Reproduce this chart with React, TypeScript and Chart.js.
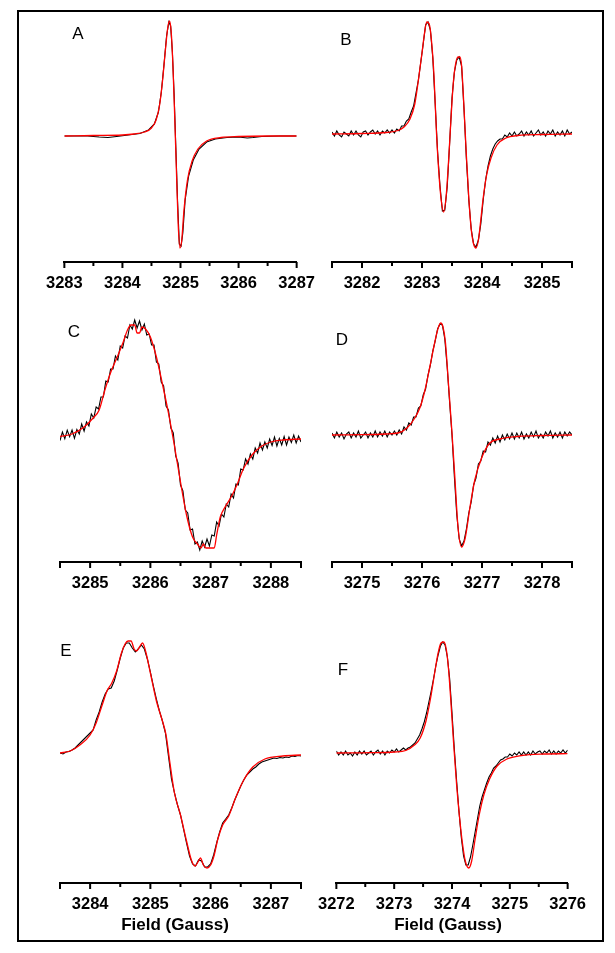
import React, { useEffect, useRef } from 'react';
import { Chart, registerables } from 'chart.js';

Chart.register(...registerables);

// ---------------- DATA (field in Gauss, signal in arbitrary units) ----------------

// Panel A
const A_range = [3283, 3287];
const A_tickLabels = [3283, 3284, 3285, 3286, 3287];
const A_expField = [3283.0, 3283.4, 3283.6, 3283.75, 3283.9, 3284.1, 3284.3, 3284.45, 3284.55, 3284.62, 3284.67, 3284.72, 3284.76, 3284.8, 3284.83, 3284.86, 3284.89, 3284.92, 3284.95, 3284.98, 3285.01, 3285.04, 3285.08, 3285.14, 3285.22, 3285.32, 3285.45, 3285.6, 3285.8, 3286.0, 3286.15, 3286.25, 3286.4, 3286.7, 3287.0];
const A_expSignal = [0, 0, -1, -1.5, -0.5, 1, 2.5, 6, 12, 24, 44, 74, 100, 114, 110, 84, 42, -12, -66, -108, -110, -97, -64, -40, -24, -13, -6, -3, -1.5, -1, -2, -1.5, -0.5, 0, 0];
const A_fitField = [3283.0, 3283.5, 3284.0, 3284.2, 3284.38, 3284.5, 3284.58, 3284.64, 3284.69, 3284.74, 3284.78, 3284.81, 3284.84, 3284.87, 3284.9, 3284.93, 3284.96, 3284.99, 3285.02, 3285.06, 3285.12, 3285.2, 3285.3, 3285.45, 3285.7, 3286.0, 3286.5, 3287.0];
const A_fitSignal = [0, 0.5, 1, 2, 4, 8, 16, 31, 55, 86, 108, 115, 104, 70, 20, -35, -88, -112, -105, -74, -44, -25, -13, -5, -1.5, -0.5, 0, 0];

// Panel B (experimental trace sampled every 0.04 G from the sweep start)
const B_range = [3281.5, 3285.5];
const B_tickLabels = [3282, 3283, 3284, 3285];
const B_expStart = 3281.5;
const B_expStep = 0.04;
const B_expSignal = [
  2, -2, 3, -1, -3, 2, 0, -2, 3, -1, 3, -1, -3, 2, 3, -1, 2, 4, 0, 3, -1, 3, 1, 4, 1, 4,
  1, 5, 3, 8, 8, 13, 15, 22, 28, 41,
  54, 72, 90, 109, 112, 104, 76, 30, -18, -52,
  -77, -76, -53, -10, 36, 62, 74, 77, 68, 25,
  -25, -66, -95, -110, -113, -106, -90, -66, -46, -32,
  -22, -15, -10, -7, -5,
  -5, -1, -3, 1, -2, 2, -2, 0, 3, -2, 2, -1, 3, -2, 1, 4, -1, 2, -2, 3, 0, 4, -2, 2, -1, 3, -2, 4, 0, 2,
];
const B_fitField = [3281.5, 3282.0, 3282.4, 3282.6, 3282.7, 3282.8, 3282.88, 3282.94, 3283.0, 3283.04, 3283.08, 3283.12, 3283.16, 3283.2, 3283.24, 3283.28, 3283.32, 3283.36, 3283.4, 3283.44, 3283.48, 3283.52, 3283.56, 3283.6, 3283.63, 3283.66, 3283.7, 3283.74, 3283.78, 3283.82, 3283.86, 3283.9, 3283.94, 3283.98, 3284.02, 3284.08, 3284.15, 3284.25, 3284.4, 3284.6, 3285.0, 3285.5];
const B_fitSignal = [0, 0.5, 1.5, 3.5, 7, 15, 30, 54, 81, 100, 112, 110, 92, 58, 3, -38, -66, -78, -64, -30, 12, 50, 70, 77, 77, 68, 26, -22, -64, -95, -110, -114, -106, -86, -64, -40, -24, -11, -4, -1.5, -0.5, 0];

// Panel C
const C_range = [3284.5, 3288.5];
const C_tickLabels = [3285, 3286, 3287, 3288];
const C_expStart = 3284.5;
const C_expStep = 0.04;
const C_expSignal = [
  -3.5, 5, -1.7, 6.8, 0.3, 7, -1.3, 7.5, 3, 13,
  6, 15, 11, 23, 19, 30, 28, 40, 40, 56,
  55, 68, 68, 81, 77, 91, 89, 101, 99, 112,
  108, 117, 109, 116, 107, 113, 102, 103, 92, 92,
  75, 73, 55, 51, 31, 27, 9, 4, -19, -26,
  -48, -54, -73, -76, -93, -92, -107, -105, -113, -104,
  -110, -102, -109, -98, -99, -85, -89, -77, -80, -67,
  -70, -57, -61, -47, -48, -32, -33, -22, -27, -17,
  -22, -11, -16, -6, -13, -5, -11, -2, -8.5, 0,
  -9, -1.5, -8, 0.5, -8, 0, -5.5, 2, -6, 1,
  -5,
];
const C_fitField = [3284.5, 3284.7, 3284.9, 3285.05, 3285.15, 3285.25, 3285.35, 3285.45, 3285.55, 3285.62, 3285.68, 3285.74, 3285.78, 3285.82, 3285.86, 3285.92, 3286.0, 3286.1, 3286.2, 3286.3, 3286.4, 3286.5, 3286.6, 3286.7, 3286.78, 3286.84, 3286.88, 3286.92, 3287.0, 3287.06, 3287.1, 3287.16, 3287.25, 3287.35, 3287.45, 3287.55, 3287.7, 3287.85, 3288.0, 3288.2, 3288.5];
const C_fitSignal = [0.5, 3, 10, 19, 27, 48, 66, 80, 95, 107, 112, 112, 104, 104, 110, 108, 100, 80, 53, 24, -9, -45, -78, -100, -107, -111, -107, -111, -111, -111, -98, -80, -69, -59, -46, -31, -17, -9, -5, -3, -2];

// Panel D
const D_range = [3274.5, 3278.5];
const D_tickLabels = [3275, 3276, 3277, 3278];
const D_expStart = 3274.5;
const D_expStep = 0.04;
const D_expSignal = [
  2, -3, 3, -2, 2, -4, 1, 3, -3, 2, -2, 4, -3, 0, 3, -3, 2, -2, 4, -2, 3, -1, 4, -2, 3, 0, 4,
  0, 5, 1, 8, 5, 12, 10, 18, 18, 27,
  29, 40, 46, 60, 70, 84, 94, 106, 111, 110,
  96, 68, 33, 0, -42, -80, -104, -111, -106, -94,
  -78, -67, -50, -43, -29, -26, -16, -17, -7, -10, -3, -8, -1, -7,
  0, -5, 1, -4, 2, -4, 2, -3, 3, -4, 1, -3, 3, -2, 4, -3, 1, -3, 3, -1, 4, -3, 2, -2, 3, -3, 3, -1, 3, 0,
];
const D_fitField = [3274.5, 3275.0, 3275.4, 3275.6, 3275.75, 3275.88, 3275.97, 3276.05, 3276.13, 3276.2, 3276.26, 3276.31, 3276.35, 3276.39, 3276.44, 3276.5, 3276.55, 3276.6, 3276.66, 3276.72, 3276.8, 3276.88, 3277.0, 3277.13, 3277.3, 3277.6, 3278.0, 3278.5];
const D_fitSignal = [0, 0.3, 1, 2, 7, 17, 28, 45, 68, 89, 105, 112, 108, 93, 52, 2, -45, -92, -112, -103, -72, -45, -22, -8, -4, -1.5, -0.5, 0];

// Panel E
const E_range = [3283.5, 3287.5];
const E_tickLabels = [3284, 3285, 3286, 3287];
const E_expStart = 3283.5;
const E_expStep = 0.05;
const E_expSignal = [
  0, -1, 1, 1.5, 3, 5, 8, 11, 14, 17, 20, 23, 33, 41, 51, 59, 64, 65, 72, 83,
  95, 105, 110, 110, 105, 101, 104, 108, 104, 94, 81, 67, 54, 42, 32, 20, -3, -26, -40, -52,
  -62, -76, -90, -103, -111, -113, -107, -108, -114, -114, -111, -102, -90, -79, -70, -66, -62, -55, -47, -40,
  -33, -27, -22, -19, -16, -14, -11, -9, -8, -7, -6, -5, -5.5, -4.5, -5, -4, -4.5, -3, -3.5, -2.5, -3,
];
const E_fitField = [3283.5, 3283.67, 3283.83, 3284.0, 3284.1, 3284.2, 3284.28, 3284.36, 3284.44, 3284.52, 3284.58, 3284.63, 3284.68, 3284.73, 3284.77, 3284.82, 3284.87, 3284.92, 3285.0, 3285.1, 3285.2, 3285.26, 3285.32, 3285.4, 3285.5, 3285.6, 3285.68, 3285.74, 3285.79, 3285.83, 3285.88, 3285.94, 3286.0, 3286.06, 3286.12, 3286.2, 3286.3, 3286.42, 3286.55, 3286.7, 3286.9, 3287.2, 3287.5];
const E_fitSignal = [0, 2, 8, 18, 30, 48, 62, 70, 82, 100, 109, 112, 112, 104, 102, 106, 110, 102, 80, 52, 32, 18, -8, -40, -62, -88, -107, -113, -109, -105, -112, -115, -112, -102, -86, -72, -63, -44, -27, -14, -6, -3, -2];

// Panel F
const F_range = [3272, 3276];
const F_tickLabels = [3272, 3273, 3274, 3275, 3276];
const F_expStart = 3272;
const F_expStep = 0.04;
const F_expSignal = [
  2, -2, 1, -2, 2, -2, 0, -3, 1, -2, 2, -1, 2, -2, 0, 2, -2, 1, 3, -1, 2, -2, 2, 0, 3,
  1, 4, 1, 3, 5, 3,
  5, 6, 8, 10, 14, 18, 24, 31, 40,
  51, 62, 74, 87, 98, 107, 111, 108, 96, 74,
  40, 4, -28, -58, -84, -103, -112, -112, -104, -92,
  -79, -66, -53, -44, -37, -30, -24, -20, -15, -13,
  -10, -7, -6, -4, -4, -1, -3, 0, -2, 1, -2, 1, -2, 1, -2, 2, -1, 1, 2, -1, 2, 0, 3, -1, 2, -1, 2, 0, 3, 0, 3,
];
const F_fitField = [3272, 3272.6, 3273.0, 3273.2, 3273.35, 3273.45, 3273.55, 3273.63, 3273.7, 3273.76, 3273.81, 3273.86, 3273.9, 3273.94, 3273.98, 3274.03, 3274.08, 3274.13, 3274.18, 3274.23, 3274.29, 3274.34, 3274.4, 3274.47, 3274.55, 3274.65, 3274.78, 3274.95, 3275.2, 3275.6, 3276];
const F_fitSignal = [0, 0.3, 1, 2.5, 8, 15, 32, 55, 80, 100, 110, 111, 104, 84, 52, 8, -32, -64, -90, -108, -115, -108, -86, -62, -42, -26, -13, -6, -2.5, -1, -0.7];

const AXIS_TITLE = 'Field (Gauss)';

// ---------------- helpers ----------------
// field sweep positions of the sampled experimental traces
const sweep = (start: number, step: number, n: number) => Array.from({ length: n }, (_, i) => +(start + i * step).toFixed(4));
const pts = (xs: number[], ys: number[]) => xs.map((x, i) => ({ x, y: ys[i] }));

const FONT = "'Liberation Sans', Arial, Helvetica, sans-serif";

// layout (pixels)
const PANELS = [
  { letter: 'A', range: A_range, labels: A_tickLabels, expX: A_expField, expY: A_expSignal, fitX: A_fitField, fitY: A_fitSignal,
    left: 60, right: 301, top: 15, axis: 262, base: 136, lx: 78, ly: 33, title: false },
  { letter: 'B', range: B_range, labels: B_tickLabels, expX: sweep(B_expStart, B_expStep, B_expSignal.length), expY: B_expSignal, fitX: B_fitField, fitY: B_fitSignal,
    left: 332, right: 572, top: 15, axis: 262, base: 134, lx: 346, ly: 39, title: false },
  { letter: 'C', range: C_range, labels: C_tickLabels, expX: sweep(C_expStart, C_expStep, C_expSignal.length), expY: C_expSignal, fitX: C_fitField, fitY: C_fitSignal,
    left: 60, right: 301, top: 315, axis: 562, base: 437, lx: 74, ly: 331, title: false },
  { letter: 'D', range: D_range, labels: D_tickLabels, expX: sweep(D_expStart, D_expStep, D_expSignal.length), expY: D_expSignal, fitX: D_fitField, fitY: D_fitSignal,
    left: 332, right: 572, top: 315, axis: 562, base: 435, lx: 342, ly: 339, title: false },
  { letter: 'E', range: E_range, labels: E_tickLabels, expX: sweep(E_expStart, E_expStep, E_expSignal.length), expY: E_expSignal, fitX: E_fitField, fitY: E_fitSignal,
    left: 60, right: 301, top: 635, axis: 883, base: 753, lx: 66, ly: 650, title: true, tx: 175 },
  { letter: 'F', range: F_range, labels: F_tickLabels, expX: sweep(F_expStart, F_expStep, F_expSignal.length), expY: F_expSignal, fitX: F_fitField, fitY: F_fitSignal,
    left: 332, right: 572, top: 635, axis: 883, base: 753, lx: 343, ly: 669, title: true, tx: 448 },
];

const PAD_L = 25, PAD_R = 25, PAD_T = 5, PAD_B = 5;
const TICK_PAD = 11;
const LABEL_LH = 20;
const SCALE_H = LABEL_LH + 2 * TICK_PAD;

const tickPlugin = {
  id: 'eprTicks',
  afterDraw(chart: any) {
    const s = chart.scales.x;
    const ctx = chart.ctx;
    ctx.save();
    ctx.strokeStyle = '#000';
    ctx.lineWidth = 2;
    s.ticks.forEach((t: any) => {
      const v = t.value;
      const px = s.getPixelForValue(v);
      const major = Math.abs(v - Math.round(v)) < 1e-6 || Math.abs(v - s.min) < 1e-6 || Math.abs(v - s.max) < 1e-6;
      const len = major ? 6 : 4;
      ctx.beginPath();
      ctx.moveTo(px, s.top);
      ctx.lineTo(px, s.top + len);
      ctx.stroke();
    });
    ctx.restore();
  },
};

function Panel({ p }: { p: any }) {
  const ref = useRef<HTMLCanvasElement>(null);
  const width = p.right - p.left + PAD_L + PAD_R;
  const height = PAD_T + (p.axis - p.top) + SCALE_H + PAD_B;
  useEffect(() => {
    if (!ref.current) return;
    const chart = new Chart(ref.current, {
      type: 'line',
      data: {
        datasets: [
          {
            data: pts(p.fitX, p.fitY),
            borderColor: '#ff0000',
            borderWidth: 1.3,
            pointRadius: 0,
            fill: false,
            cubicInterpolationMode: 'monotone',
          },
          {
            data: pts(p.expX, p.expY),
            borderColor: '#000000',
            borderWidth: 1.1,
            pointRadius: 0,
            fill: false,
            tension: 0,
          },
        ],
      },
      options: {
        animation: false,
        responsive: false,
        maintainAspectRatio: false,
        events: [],
        layout: { padding: { left: PAD_L, right: PAD_R, top: PAD_T, bottom: PAD_B } },
        plugins: { legend: { display: false }, tooltip: { enabled: false }, title: { display: false } },
        scales: {
          x: {
            type: 'linear',
            position: 'bottom',
            min: p.range[0],
            max: p.range[1],
            border: { display: true, color: '#000', width: 2 },
            grid: { display: true, drawOnChartArea: false, drawTicks: false },
            ticks: {
              stepSize: 0.5,
              autoSkip: false,
              maxRotation: 0,
              minRotation: 0,
              padding: TICK_PAD,
              color: '#000',
              font: { family: FONT, size: 16.5, weight: 'bold', lineHeight: LABEL_LH / 16.5 },
              callback: (v: any) => {
                const n = Number(v);
                return p.labels.some((l: number) => Math.abs(l - n) < 1e-6) ? String(Math.round(n)) : '';
              },
            },
          },
          y: {
            display: false,
            min: p.base - p.axis,
            max: p.base - p.top,
          },
        },
      },
      plugins: [tickPlugin],
    } as any);
    return () => chart.destroy();
  }, []);
  return (
    <canvas
      ref={ref}
      width={width}
      height={height}
      style={{ position: 'absolute', left: p.left - PAD_L, top: p.top - PAD_T, width, height }}
    />
  );
}

export default function App() {
  return (
    <div style={{ position: 'fixed', left: 0, top: 0, width: 615, height: 953, background: '#fff', overflow: 'hidden' }}>
      <div
        style={{
          position: 'absolute', left: 17, top: 10, width: 587, height: 932,
          border: '2px solid #000', boxSizing: 'border-box',
        }}
      />
      {PANELS.map((p) => (
        <Panel key={p.letter} p={p} />
      ))}
      {PANELS.map((p) => (
        <div
          key={'l' + p.letter}
          style={{
            position: 'absolute', left: p.lx, top: p.ly, transform: 'translate(-50%, -50%)',
            font: `17px ${FONT}`, lineHeight: 1, color: '#000',
          }}
        >
          {p.letter}
        </div>
      ))}
      {PANELS.filter((p) => p.title).map((p) => (
        <div
          key={'t' + p.letter}
          style={{
            position: 'absolute', left: p.tx, top: 924, transform: 'translate(-50%, -50%)',
            font: `bold 17px ${FONT}`, lineHeight: 1, color: '#000', whiteSpace: 'nowrap',
          }}
        >
          {AXIS_TITLE}
        </div>
      ))}
    </div>
  );
}
